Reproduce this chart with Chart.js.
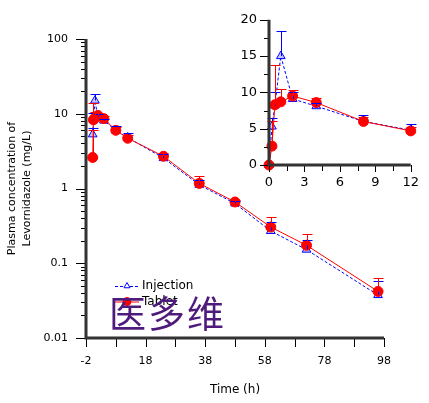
<!DOCTYPE html>
<html>
<head>
    <title>Levornidazole plasma concentration</title>
    <script src="https://cdn.jsdelivr.net/npm/chart.js@4.4.0/dist/chart.umd.min.js"></script>
    <style>
        body { margin: 0; background: #fff; }
        #wrap { position: relative; width: 429px; height: 403px; overflow: hidden; }
        #main { position: absolute; left: 0; top: 0; }
        #inset { position: absolute; left: 230px; top: 0; }
        #mark {
            position: absolute; left: 109px; top: 294px;
            font: 37px "Noto Sans CJK SC"; color: #4e1a7c;
            letter-spacing: 2px; line-height: 1; white-space: nowrap;
        }
    </style>
</head>
<body>
<div id="wrap">
    <canvas id="main" width="429" height="403"></canvas>
    <canvas id="inset" width="199" height="200"></canvas>
    <div id="mark">医多维</div>
</div>
<script>
    // sampling times (h)
    const times = [0, 0.25, 0.5, 1, 2, 4, 8, 12, 24, 36, 48, 60, 72, 96];
    // injection: mean and SD (mg/L)
    const injectionMean = [0, 5.3, 8.2, 15.0, 9.1, 8.1, 6.0, 4.8, 2.55, 1.12, 0.63, 0.27, 0.152, 0.0375];
    const injectionSD = [0, 1.2, 1.9, 3.4, 0.9, 0.5, 0.9, 0.8, 0.35, 0.18, 0.06, 0.09, 0.055, 0.02];
    // tablet: mean and SD (mg/L)
    const tabletMean = [0, 2.6, 8.3, 8.7, 9.5, 8.6, 6.0, 4.7, 2.7, 1.17, 0.66, 0.305, 0.174, 0.042];
    const tabletSD = [0, 3.5, 5.5, 1.8, 0.8, 0.6, 0.6, 0.5, 0.25, 0.29, 0.05, 0.115, 0.075, 0.022];

    const mainXTicks = [-2, 18, 38, 58, 78, 98];
    const mainXMinor = [8, 28, 48, 68, 88];
    const mainYTicks = [0.01, 0.1, 1, 10, 100];
    const insetXTicks = [0, 3, 6, 9, 12];
    const insetXMinor = [1.5, 4.5, 7.5, 10.5];
    const insetYTicks = [0, 5, 10, 15, 20];
    const insetYMinor = [2.5, 7.5, 12.5, 17.5];

    Chart.defaults.font.family = 'DejaVu Sans';
    Chart.defaults.color = '#000';

    const mainYMinor = [];
    mainYTicks.slice(0, -1).forEach(d => {
        for (let k = 2; k <= 9; k++) mainYMinor.push(d * k);
    });

    function points(means, maxT, logScale) {
        const out = [];
        times.forEach((t, i) => {
            if (t > maxT) return;
            out.push({x: t, y: (logScale && means[i] <= 0) ? null : means[i]});
        });
        return out;
    }

    function datasets(maxT, logScale) {
        return [{
            label: 'Tablet',
            data: points(tabletMean, maxT, logScale),
            sd: tabletSD,
            borderColor: '#ff0000',
            backgroundColor: '#ff0000',
            borderWidth: 1,
            pointStyle: 'circle',
            pointRadius: 5,
            pointBorderWidth: 1,
            order: 0,
            clip: false
        }, {
            label: 'Injection',
            data: points(injectionMean, maxT, logScale),
            sd: injectionSD,
            borderColor: '#0000ff',
            backgroundColor: '#c8c8ff',
            borderWidth: 1,
            borderDash: [3, 2],
            pointStyle: 'triangle',
            pointRadius: 5,
            pointBorderWidth: 1,
            order: 1,
            clip: false
        }];
    }

    // upward error bars (mean + SD)
    const errorBars = {
        id: 'errorBars',
        afterDatasetsDraw(chart) {
            const ctx = chart.ctx;
            const xs = chart.scales.x, ys = chart.scales.y;
            ctx.save();
            ctx.lineWidth = 1;
            chart.data.datasets.slice().reverse().forEach(ds => {
                ctx.strokeStyle = ds.borderColor;
                ds.data.forEach((p, j) => {
                    const sd = ds.sd[j];
                    if (p.y == null || !sd) return;
                    const px = Math.round(xs.getPixelForValue(p.x)) + 0.5;
                    const y0 = ys.getPixelForValue(p.y);
                    const y1 = Math.round(ys.getPixelForValue(p.y + sd)) + 0.5;
                    ctx.beginPath();
                    ctx.moveTo(px, y0);
                    ctx.lineTo(px, y1);
                    ctx.moveTo(px - 5, y1);
                    ctx.lineTo(px + 5, y1);
                    ctx.stroke();
                });
            });
            ctx.restore();
        }
    };

    // axis lines plus major / minor tick marks
    const axisTicks = {
        id: 'axisTicks',
        afterDraw(chart, args, o) {
            const ctx = chart.ctx;
            const xs = chart.scales.x, ys = chart.scales.y;
            const a = chart.chartArea;
            ctx.save();
            ctx.strokeStyle = '#000';
            ctx.lineWidth = 1;
            ctx.beginPath();
            o.xMajor.forEach(v => {
                const px = Math.round(xs.getPixelForValue(v)) + 0.5;
                ctx.moveTo(px, a.bottom); ctx.lineTo(px, a.bottom + o.xLen[0]);
            });
            o.xMinor.forEach(v => {
                const px = Math.round(xs.getPixelForValue(v)) + 0.5;
                ctx.moveTo(px, a.bottom); ctx.lineTo(px, a.bottom + o.xLen[1]);
            });
            o.yMajor.forEach(v => {
                const py = Math.round(ys.getPixelForValue(v)) + 0.5;
                ctx.moveTo(a.left, py); ctx.lineTo(a.left - o.yLen[0], py);
            });
            o.yMinor.forEach(v => {
                const py = Math.round(ys.getPixelForValue(v)) + 0.5;
                ctx.moveTo(a.left, py); ctx.lineTo(a.left - o.yLen[1], py);
            });
            ctx.stroke();
            ctx.strokeStyle = '#333';
            ctx.lineWidth = 3;
            ctx.beginPath();
            ctx.moveTo(a.left, a.top);
            ctx.lineTo(a.left, a.bottom);
            ctx.lineTo(a.right, a.bottom);
            ctx.stroke();
            ctx.restore();
        }
    };

    // legend in the lower left of the main plot
    const cornerLegend = {
        id: 'cornerLegend',
        afterDraw(chart) {
            const ctx = chart.ctx;
            const rows = [chart.data.datasets[1], chart.data.datasets[0]];
            ctx.save();
            rows.forEach((ds, i) => {
                const y = 286 + i * 15.5;
                ctx.strokeStyle = ds.borderColor;
                ctx.lineWidth = 1;
                ctx.setLineDash(ds.borderDash || []);
                ctx.beginPath();
                ctx.moveTo(115, y + 0.5);
                ctx.lineTo(139, y + 0.5);
                ctx.stroke();
                ctx.setLineDash([]);
                ctx.fillStyle = ds.pointStyle === 'triangle' ? '#ffffff' : ds.backgroundColor;
                Chart.helpers.drawPoint(ctx, {
                    pointStyle: ds.pointStyle,
                    radius: ds.pointStyle === 'triangle' ? 3.5 : 4,
                    rotation: 0,
                    borderWidth: 1
                }, 127, y);
                ctx.fillStyle = '#000';
                ctx.font = '12px "DejaVu Sans"';
                ctx.textBaseline = 'middle';
                ctx.fillText(ds.label, 142, y);
            });
            ctx.restore();
        }
    };

    new Chart(document.getElementById('main'), {
        type: 'line',
        data: {datasets: datasets(100, true)},
        options: {
            responsive: false,
            animation: false,
            layout: {padding: {top: 39, right: 45, left: 0, bottom: 0}},
            plugins: {
                legend: {display: false},
                tooltip: {enabled: false},
                axisTicks: {
                    xMajor: mainXTicks, xMinor: mainXMinor, xLen: [9, 9],
                    yMajor: mainYTicks, yMinor: mainYMinor, yLen: [10, 5]
                }
            },
            scales: {
                x: {
                    type: 'linear', min: -2, max: 98,
                    afterBuildTicks: s => { s.ticks = mainXTicks.map(v => ({value: v})); },
                    afterFit: s => { s.height = 65; },
                    grid: {display: false, drawTicks: false},
                    border: {display: false},
                    ticks: {font: {size: 11}, padding: 17, maxRotation: 0, autoSkip: false},
                    title: {display: true, text: 'Time (h)', font: {size: 12}, padding: {top: 0, bottom: 6}}
                },
                y: {
                    type: 'logarithmic', min: 0.01, max: 100,
                    afterBuildTicks: s => { s.ticks = mainYTicks.map(v => ({value: v})); },
                    afterFit: s => { s.width = 86; },
                    grid: {display: false, drawTicks: false},
                    border: {display: false},
                    ticks: {font: {size: 11}, padding: 18, callback: v => String(v)},
                    title: {
                        display: true,
                        text: ['Plasma concentration of', 'Levornidazole (mg/L)'],
                        font: {size: 11, lineHeight: 1.32},
                        padding: {top: 5, bottom: 0}
                    }
                }
            }
        },
        plugins: [errorBars, axisTicks, cornerLegend]
    });

    new Chart(document.getElementById('inset'), {
        type: 'line',
        data: {datasets: datasets(12, false)},
        options: {
            responsive: false,
            animation: false,
            layout: {padding: {top: 16, right: 11, left: 0, bottom: 0}},
            plugins: {
                legend: {display: false},
                tooltip: {enabled: false},
                axisTicks: {
                    xMajor: insetXTicks, xMinor: insetXMinor, xLen: [7, 6],
                    yMajor: insetYTicks, yMinor: insetYMinor, yLen: [9, 5]
                }
            },
            scales: {
                x: {
                    type: 'linear', min: 0, max: 12,
                    afterBuildTicks: s => { s.ticks = insetXTicks.map(v => ({value: v})); },
                    afterFit: s => { s.height = 35; },
                    grid: {display: false, drawTicks: false},
                    border: {display: false},
                    ticks: {font: {size: 13}, padding: 10, maxRotation: 0, autoSkip: false}
                },
                y: {
                    type: 'linear', min: 0, max: 20,
                    afterBuildTicks: s => { s.ticks = insetYTicks.map(v => ({value: v})); },
                    afterFit: s => { s.width = 39; },
                    grid: {display: false, drawTicks: false},
                    border: {display: false},
                    ticks: {font: {size: 13}, padding: 12}
                }
            }
        },
        plugins: [errorBars, axisTicks]
    });
</script>
</body>
</html>
